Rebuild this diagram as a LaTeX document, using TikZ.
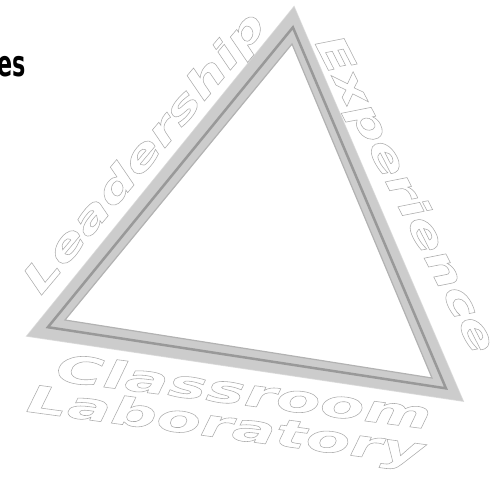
\documentclass[tikz,border=0pt]{standalone}
\usepackage{fontspec}
\usepackage{xcolor}
\usetikzlibrary{calc}
\newfontfamily\sidefont[FakeStretch=1.45]{DejaVu Sans}
\newfontfamily\basefont[FakeStretch=1.7]{DejaVu Sans}
\newfontfamily\titlefont[FakeStretch=0.62]{DejaVu Sans}
\newcommand{\hollow}[1]{\textcolor{black!33}{\special{pdf:literal direct 1 Tr 0.55 w}#1\special{pdf:literal direct 0 Tr}}}

\begin{document}
\begin{tikzpicture}[
    x=1pt, y=-1pt,
    band/.style={fill=black!20, even odd rule},
    ridge/.style={draw=black!40, line width=2.5pt, line join=miter},
    edge/.style={draw=black!30, line width=1.2pt, line join=miter},
    word/.style={inner sep=0pt},
    sideword/.style={word, font=\sidefont\bfseries\itshape\fontsize{39}{39}\selectfont},
    baseword/.style={word, font=\basefont\bfseries\itshape\fontsize{38}{38}\selectfont}
]
\useasboundingbox (0,0) rectangle (497,476);

% corners of the frame
\coordinate (top) at (294,7);
\coordinate (left) at (27,336);
\coordinate (right) at (463,401);
\coordinate (itop) at (292,44);
\coordinate (ileft) at (65,320);
\coordinate (iright) at (432,378);

% frame
\draw[black!14, line width=1.5pt, line join=miter] (top) -- (left) -- (right) -- cycle;
\fill[band] (top) -- (left) -- (right) -- cycle
            (itop) -- (ileft) -- (iright) -- cycle;
\draw[ridge] ($(itop)!0.45!(top)$) -- ($(ileft)!0.45!(left)$)
             -- ($(iright)!0.45!(right)$) -- cycle;
\draw[edge] (itop) -- (ileft) -- (iright) -- cycle;

% words round the frame
\node[sideword, rotate=50] (lead) at (146,154) {\hollow{Leadership}};
\node[sideword, rotate=-63] (exp) at (404,195) {\hollow{Experience}};
\node[baseword, rotate=-7.4] (class) at (244,391) {\hollow{Classroom}};
\node[baseword, rotate=-7.7] (lab) at (225,428) {\hollow{Laboratory}};

% cut-off title
\node[font=\titlefont\bfseries\fontsize{36}{36}\selectfont, anchor=base east,
      inner sep=0pt] (title) at (26,77) {es};

\end{tikzpicture}
\end{document}
